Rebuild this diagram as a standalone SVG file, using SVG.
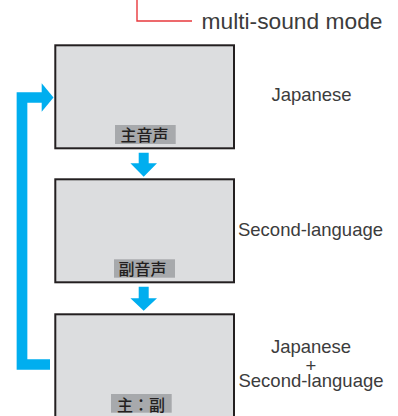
<svg xmlns="http://www.w3.org/2000/svg" width="398" height="416" viewBox="0 0 398 416">
<style>
.box{fill:#dcdddf;stroke:#231f20;stroke-width:2}
.lbl{fill:#a7a9ac}
.jp{font-family:"Noto Sans CJK JP","Noto Sans CJK SC",sans-serif;font-size:16px;font-weight:500;fill:#231f20;text-anchor:middle}
.en{font-family:"Liberation Sans",Arial,sans-serif;font-size:18.5px;fill:#3c3c3c;text-anchor:middle}
.blue{fill:#00aeef}
</style>
<rect width="398" height="416" fill="#ffffff"/>
<g id="callout">
<polyline points="137,0 137,21 192,21" fill="none" stroke="#e8383d" stroke-width="1.4"/>
<text x="201.5" y="29" font-family="'Liberation Sans',Arial,sans-serif" font-size="22" fill="#3c3c3c" textLength="181" lengthAdjust="spacingAndGlyphs">multi-sound mode</text>
</g>
<g id="connectors">
<polyline points="50,364.5 22,364.5 22,97.5 43,97.5" fill="none" stroke="#00aeef" stroke-width="10.7"/>
<polygon class="blue" points="41.7,83.3 53.5,97.5 41.7,111.7"/>
<polygon class="blue" points="138.7,152.7 148.7,152.7 148.7,163.3 157,163.3 143.7,176.7 130.4,163.3 138.7,163.3"/>
<polygon class="blue" points="138.7,286.7 148.7,286.7 148.7,298.3 157,298.3 143.7,310.7 130.4,298.3 138.7,298.3"/>
</g>
<g id="node1">
<rect class="box" x="55.3" y="45.3" width="178.7" height="103"/>
<rect class="lbl" x="115" y="125" width="60.7" height="19"/>
<text class="jp" x="144.5" y="141">主音声</text>
<text class="en" x="311.5" y="100.7">Japanese</text>
</g>
<g id="node2">
<rect class="box" x="55.3" y="179.3" width="178.7" height="103"/>
<rect class="lbl" x="114" y="259.3" width="61" height="18.4"/>
<text class="jp" x="142.5" y="274.8">副音声</text>
<text class="en" x="310.5" y="235.7">Second-language</text>
</g>
<g id="node3">
<rect class="box" x="55.3" y="314.3" width="178.7" height="110"/>
<rect class="lbl" x="111" y="394" width="60.7" height="18.7"/>
<text class="jp" x="141" y="410.5">主：副</text>
<text class="en"><tspan x="311" y="353.3">Japanese</tspan><tspan x="311" y="371.5">+</tspan><tspan x="311" y="387">Second-language</tspan></text>
</g>
</svg>
